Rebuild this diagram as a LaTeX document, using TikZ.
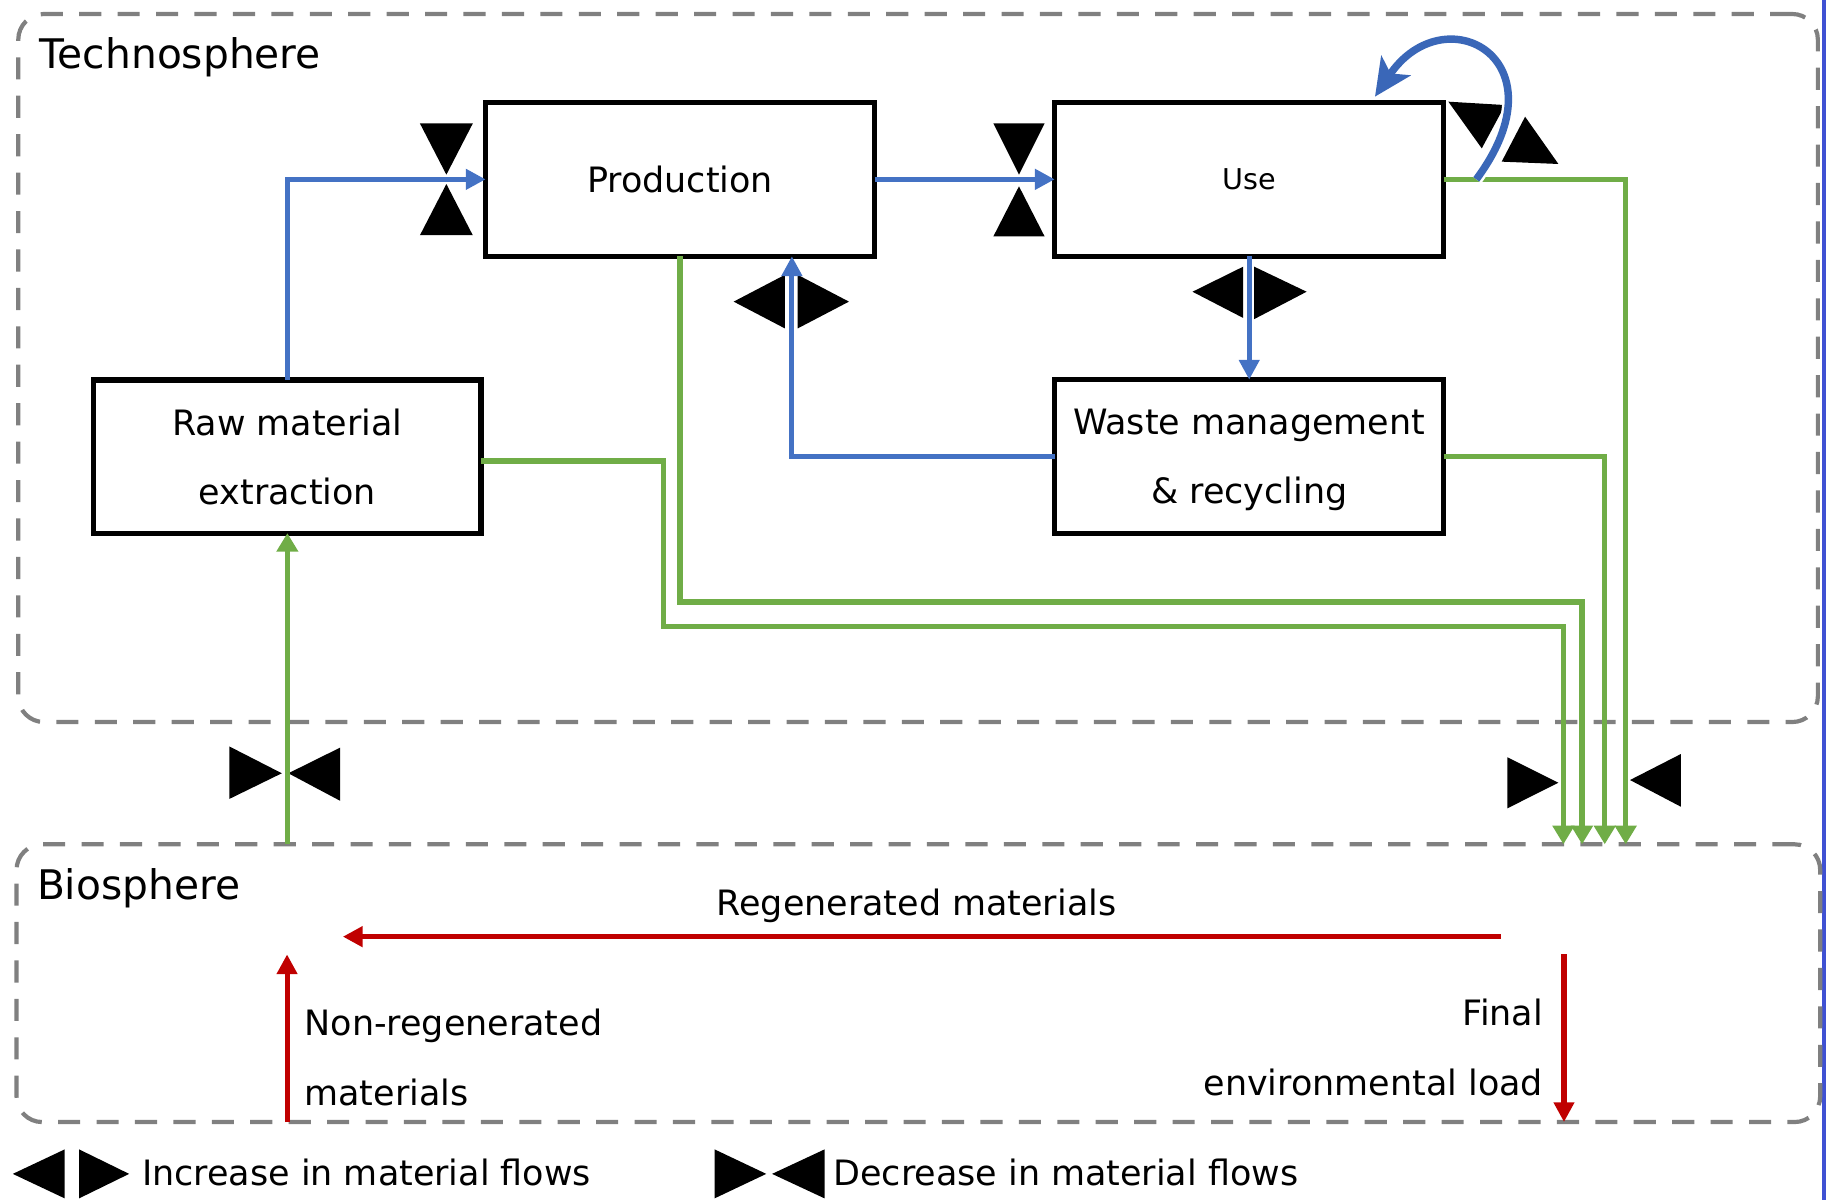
\documentclass[tikz,border=0pt]{standalone}
\usepackage{fontspec}
\setmainfont{DejaVu Sans}
\usetikzlibrary{arrows.meta}
\definecolor{flowblue}{HTML}{4472C4}
\definecolor{loopblue}{HTML}{3A67B8}
\definecolor{flowgreen}{HTML}{70AD47}
\definecolor{flowred}{HTML}{C00000}
\definecolor{zonegray}{HTML}{808080}
\definecolor{edgeblue}{HTML}{3F51D3}

\begin{document}
\begin{tikzpicture}[x=0.5pt,y=-0.5pt,
  zone/.style={draw=zonegray, line width=1.8pt, dash pattern=on 9.5pt off 7pt,
    rounded corners=11pt, inner sep=0pt, outer sep=0pt},
  stage/.style={draw=black, line width=2.2pt, minimum width=167pt, minimum height=66pt,
    inner sep=0pt, outer sep=0pt, align=center, font=\fontsize{15}{29.75}\selectfont},
  blueflow/.style={draw=flowblue, line width=2.2pt, -{Triangle[length=8.5pt,width=8.5pt]}},
  greenflow/.style={draw=flowgreen, line width=2.3pt, -{Triangle[length=8pt,width=9pt]}},
  redflow/.style={draw=flowred, line width=2.2pt, -{Triangle[length=8.5pt,width=8.5pt]}},
  txt/.style={font=\fontsize{15}{18}\selectfont, inner sep=0pt, outer sep=0pt},
  zonelabel/.style={font=\fontsize{17.5}{21}\selectfont, inner sep=0pt, anchor=base west},
  valve/.style={fill=black}
]
\useasboundingbox (0,0) rectangle (1568,1030);

% thin blue rule along the right edge
\draw[edgeblue, line width=1.8pt] (1566.2,0) -- (1566.2,1030);

% the two spheres
\node[zone, minimum width=772.65pt, minimum height=304pt] (tech) at (788.35,316) {};
\node[zone, minimum width=774.4pt, minimum height=119.25pt] (bio) at (788.6,844.25) {};
\node[zonelabel] (techlabel) at (33.8,58.7) {Technosphere};
\node[zonelabel] (biolabel) at (31.4,772.3) {Biosphere};

% life-cycle stages
\node[stage] (prod) at (584,154) {Production};
\node[stage, font=\fontsize{12.3}{15}\selectfont] (use) at (1072.7,154) {Use};
\node[stage, minimum width=166.25pt, minimum height=65.75pt, text depth=0pt] (raw) at (246.75,392) {Raw material\\extraction};
\node[stage, text depth=0pt] (waste) at (1072.7,392) {Waste management\\\& recycling};

% valves: decrease (pointing at each other) / increase (pointing apart)
\fill[valve] (360.6,106) -- (406,106) -- (383.3,150) -- cycle;
\fill[valve] (360.6,202) -- (406,202) -- (383.3,158) -- cycle;
\fill[valve] (853,106) -- (897,106) -- (875,150) -- cycle;
\fill[valve] (853,203) -- (897,203) -- (875,160) -- cycle;
\fill[valve] (630,259) -- (674,236) -- (674,282) -- cycle;
\fill[valve] (685,236) -- (685,282) -- (729,259) -- cycle;
\fill[valve] (1024,250.5) -- (1067.5,229) -- (1067.5,273) -- cycle;
\fill[valve] (1077,229) -- (1077,274) -- (1122,250.5) -- cycle;
\fill[valve] (1243.7,87.3) -- (1292.4,90.2) -- (1272.4,127.4) -- cycle;
\fill[valve] (1309.6,100.2) -- (1289.5,138.8) -- (1338.2,140.8) -- cycle;
\fill[valve] (197,641) -- (197,686) -- (242,664) -- cycle;
\fill[valve] (247.6,664) -- (292,642) -- (292,687.6) -- cycle;
\fill[valve] (1294.4,650.3) -- (1294.4,694.1) -- (1338.2,672.1) -- cycle;
\fill[valve] (1399.7,669.8) -- (1443.3,647.5) -- (1443.3,692.7) -- cycle;

% material flows inside the technosphere
\draw[blueflow] (raw.north) |- (prod.west);
\draw[blueflow] (prod.east) -- (use.west);
\draw[blueflow] (use.south) -- (waste.north);
\draw[blueflow] (waste.west) -| ([xshift=48pt]prod.south);

% flows between the spheres
\draw[greenflow] (bio.north -| raw.south) -- (raw.south);
\draw[greenflow] ([yshift=-2pt]raw.east) -| (570,538) -| (1342.5,0 |- bio.north);
\draw[greenflow] (prod.south) |- (1358.5,517) -- (1358.5,0 |- bio.north);
\draw[greenflow] (waste.east) -| (1378,0 |- bio.north);
\draw[greenflow] (use.east) -| (1396,0 |- bio.north);

% reuse loop on the use stage
\draw[white, line width=5.4pt] ([xshift=14pt]use.east) .. controls (1345,50) and (1240,-5) .. (1205,62);
\draw[loopblue, line width=3.2pt, -{Stealth[length=16pt,width=15pt,inset=4pt]}]
  ([xshift=14pt]use.east) .. controls (1345,50) and (1240,-5) .. ([xshift=54pt,yshift=2.5pt]use.north);

% flows within the biosphere
\coordinate (regenfrom) at (1288.5,804.3);
\coordinate (regento) at (294.4,804.3);
\coordinate (nonregento) at (246.5,819.5);
\coordinate (finalfrom) at (1343,819.5);
\draw[redflow] (regenfrom) -- (regento);
\draw[redflow] (bio.south -| nonregento) -- (nonregento);
\draw[redflow] (finalfrom) -- (finalfrom |- bio.south);

\node[txt, anchor=base] (regen) at (787,786) {Regenerated materials};
\node[txt, anchor=base west] (nonregenA) at (261.5,888.8) {Non-regenerated};
\node[txt, anchor=base west] (nonregenB) at (261.5,949) {materials};
\node[txt, anchor=base east] (finalA) at (1325,881) {Final};
\node[txt, anchor=base east] (finalB) at (1325,941) {environmental load};

% legend
\fill[valve] (11,1008) -- (55.5,987) -- (55.5,1029) -- cycle;
\fill[valve] (68,987) -- (68,1029) -- (110.9,1008) -- cycle;
\node[txt, anchor=base west] (incr) at (122,1017.6) {Increase in material flows};
\fill[valve] (613.7,987) -- (613.7,1029) -- (658,1008) -- cycle;
\fill[valve] (663,1008) -- (708,987) -- (708,1029) -- cycle;
\node[txt, anchor=base west] (decr) at (715.7,1017.6) {Decrease in material flows};
\end{tikzpicture}
\end{document}
